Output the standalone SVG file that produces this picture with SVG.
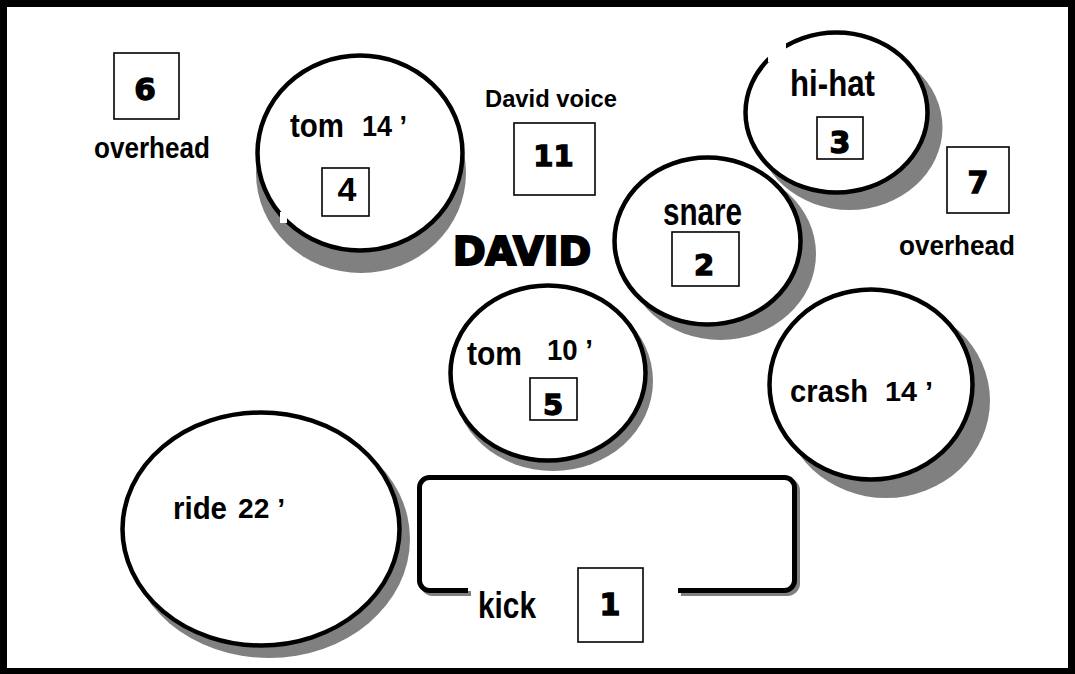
<svg xmlns="http://www.w3.org/2000/svg" width="1075" height="674" viewBox="0 0 1075 674">
<style>
.sh{fill:#808080;stroke:none}
.dr{fill:#ffffff;stroke:#000;stroke-width:4.5}
.bx{fill:#ffffff;stroke:#000;stroke-width:1.6}
.lb{font-family:"Liberation Sans Narrow","Liberation Sans",Arial,sans-serif;font-weight:bold;fill:#000}
.num{font-family:"DejaVu Sans","Liberation Sans",sans-serif;font-weight:bold;fill:#000;stroke:#000;stroke-width:1.3;text-anchor:middle}
.big{font-family:"DejaVu Sans","Liberation Sans",sans-serif;font-weight:bold;fill:#000;stroke:#000;stroke-width:2.2;text-anchor:start}
.ksh{fill:none;stroke:#808080;stroke-width:5}
.k{fill:#ffffff;stroke:#000;stroke-width:5}
</style>
<rect x="0" y="0" width="1075" height="674" fill="#fff"/>
<rect x="3.5" y="3.5" width="1068" height="668" fill="#fff" stroke="#000" stroke-width="7"/>

<g id="overhead-left">
<rect class="bx" x="114" y="53" width="65" height="66"/>
<text class="num" x="145" y="100" font-size="31">6</text>
<text class="lb" x="94" y="158" font-size="29" textLength="116" lengthAdjust="spacingAndGlyphs">overhead</text>
</g>

<g id="tom14">
<ellipse class="sh" cx="361" cy="173" rx="105" ry="100"/>
<ellipse class="dr" cx="360" cy="153" rx="102.5" ry="97.5"/>
<rect x="280" y="212" width="7" height="11" fill="#fff"/>
<text class="lb" x="290" y="137" font-size="33" textLength="54" lengthAdjust="spacingAndGlyphs">tom</text>
<text class="lb" x="362" y="136" font-size="29" textLength="45" lengthAdjust="spacingAndGlyphs">14 ’</text>
<rect class="bx" x="322" y="168" width="47" height="48"/>
<text class="lb" x="347" y="201" font-size="34" text-anchor="middle">4</text>
</g>

<g id="david-voice">
<text class="lb" x="485" y="107" font-size="24" textLength="132" lengthAdjust="spacingAndGlyphs">David voice</text>
<rect class="bx" x="514" y="123" width="81" height="72"/>
<text class="num" x="553.5" y="166" font-size="29">11</text>
</g>

<g id="david">
<text class="big" x="453" y="265" font-size="39" textLength="138" lengthAdjust="spacingAndGlyphs">DAVID</text>
</g>

<g id="hihat">
<ellipse class="sh" cx="849.5" cy="127.5" rx="93" ry="82.5"/>
<ellipse class="dr" cx="836.5" cy="112.5" rx="91" ry="80"/>
<rect x="768" y="43" width="18" height="19" fill="#fff"/>
<text class="lb" x="790" y="96" font-size="36" textLength="85" lengthAdjust="spacingAndGlyphs">hi-hat</text>
<rect class="bx" x="817" y="117" width="46" height="42"/>
<text class="num" x="840" y="153" font-size="30">3</text>
</g>

<g id="overhead-right">
<rect class="bx" x="947" y="147" width="62" height="66"/>
<text class="num" x="978" y="193" font-size="30">7</text>
<text class="lb" x="899" y="255" font-size="28" textLength="116" lengthAdjust="spacingAndGlyphs">overhead</text>
</g>

<g id="snare">
<ellipse class="sh" cx="720.5" cy="254" rx="95.5" ry="86"/>
<ellipse class="dr" cx="707.5" cy="241" rx="93" ry="83.5"/>
<text class="lb" x="663" y="225" font-size="38" textLength="79" lengthAdjust="spacingAndGlyphs">snare</text>
<rect class="bx" x="672" y="232" width="67" height="54"/>
<text class="num" x="704" y="275" font-size="29">2</text>
</g>

<g id="tom10">
<ellipse class="sh" cx="553" cy="381" rx="100" ry="90"/>
<ellipse class="dr" cx="548" cy="373" rx="97.5" ry="87.5"/>
<text class="lb" x="467" y="365" font-size="34" textLength="55" lengthAdjust="spacingAndGlyphs">tom</text>
<text class="lb" x="547" y="360" font-size="29" textLength="46" lengthAdjust="spacingAndGlyphs">10 ’</text>
<rect class="bx" x="530" y="378" width="47" height="42"/>
<text class="num" x="553" y="415" font-size="29">5</text>
</g>

<g id="crash">
<ellipse class="sh" cx="886" cy="400.5" rx="104" ry="97.5"/>
<ellipse class="dr" cx="871" cy="384.5" rx="101.5" ry="95"/>
<text class="lb" x="790" y="402" font-size="32" textLength="78" lengthAdjust="spacingAndGlyphs">crash</text>
<text class="lb" x="885" y="401" font-size="27" textLength="48" lengthAdjust="spacingAndGlyphs">14 ’</text>
</g>

<g id="ride">
<ellipse class="sh" cx="269" cy="539" rx="141" ry="119"/>
<ellipse class="dr" cx="261" cy="529" rx="138.5" ry="116.5"/>
<text class="lb" x="173" y="519" font-size="31" textLength="54" lengthAdjust="spacingAndGlyphs">ride</text>
<text class="lb" x="238" y="518" font-size="28" textLength="47" lengthAdjust="spacingAndGlyphs">22 ’</text>
</g>

<g id="kick">
<path class="ksh" d="M471 593.5 H432.5 A10 10 0 0 1 422.5 583.5 V490.5 A10 10 0 0 1 432.5 480.5 H787.5 A10 10 0 0 1 797.5 490.5 V583.5 A10 10 0 0 1 787.5 593.5 H681"/>
<path class="k" d="M468 590.5 H429.5 A10 10 0 0 1 419.5 580.5 V487.5 A10 10 0 0 1 429.5 477.5 H784.5 A10 10 0 0 1 794.5 487.5 V580.5 A10 10 0 0 1 784.5 590.5 H678"/>
<text class="lb" x="478" y="618" font-size="36" textLength="58" lengthAdjust="spacingAndGlyphs">kick</text>
<rect class="bx" x="578" y="568" width="65" height="74"/>
<text class="num" x="610" y="615" font-size="30">1</text>
</g>

<g id="connectors"></g>
</svg>
